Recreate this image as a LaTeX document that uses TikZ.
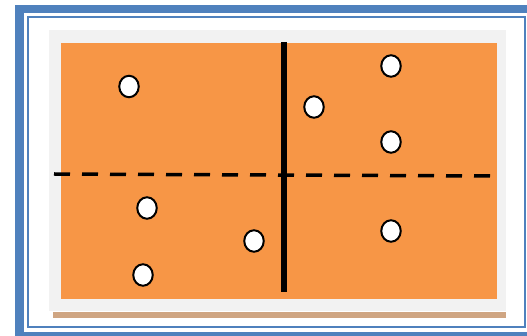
\documentclass[tikz,border=0pt]{standalone}
\usepackage{tikz}
\usetikzlibrary{shapes.geometric}
\definecolor{frameblue}{RGB}{79,129,189}
\definecolor{fieldorange}{RGB}{247,150,70}
\definecolor{panelgray}{RGB}{242,242,242}
\definecolor{shelftan}{RGB}{207,165,130}

\begin{document}
\begin{tikzpicture}[x=1pt, y=-1pt,
    dot/.style={ellipse, draw=black, line width=2pt, fill=white,
        minimum width=19.5pt, minimum height=21.5pt, inner sep=0pt}]
    \useasboundingbox (0,0) rectangle (527,336);
    % Frame
    \fill[frameblue] (15,5) rectangle (527,336);
    \fill[white] (24,13) rectangle (527,332);
    \draw[frameblue, line width=2pt] (28,17) rectangle (524.5,327.5);

    % Panel and field
    \fill[panelgray] (49,30) rectangle (506,311);
    \fill[shelftan] (53,312.5) rectangle (506,318);
    \fill[fieldorange] (61,43) rectangle (497,299);

    % Dividers
    \draw[line width=5.5pt] (284,42) -- (284,292);
    \draw[line width=3.5pt, dash pattern=on 16pt off 12pt] (54,174) -- (490,176);

    % Points
    \foreach \name/\x/\y in {a/129/86.5, b/391/66, c/314/107, d/391/142,
                             e/147/208, f/254/241, g/391/231, h/143/275} {
        \node[dot] (\name) at (\x,\y) {};
    }
\end{tikzpicture}
\end{document}
